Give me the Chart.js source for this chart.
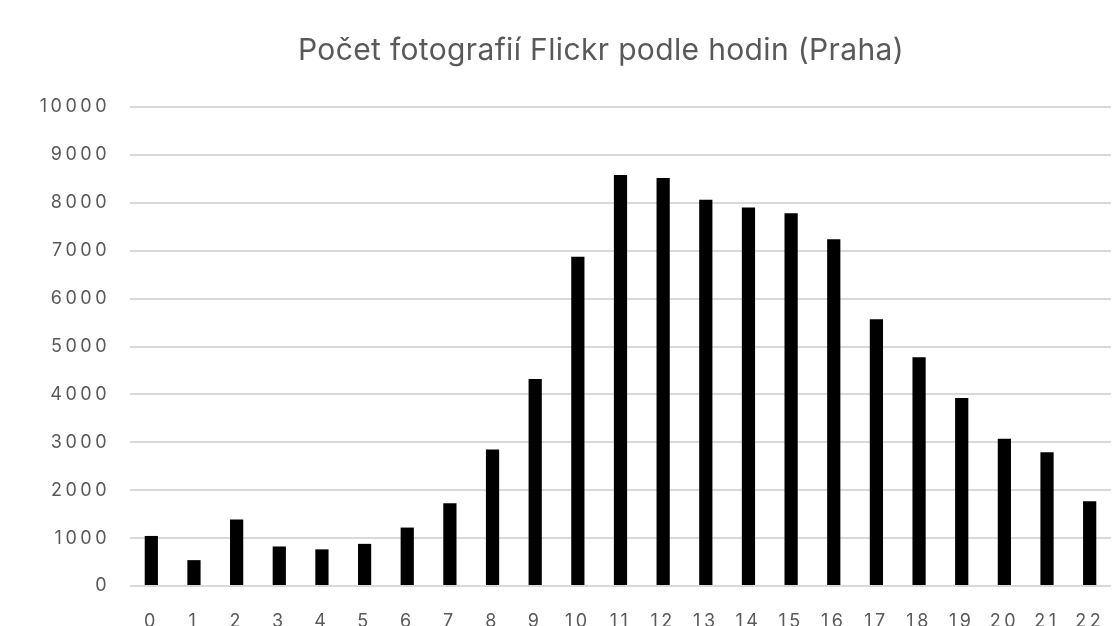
<!DOCTYPE html>
<html>
<head>
<meta charset="utf-8">
<script src="https://cdn.jsdelivr.net/npm/chart.js@4/dist/chart.umd.min.js"></script>
<style>
    html, body { margin: 0; padding: 0; background: #fff; overflow: hidden; }
    #wrap { position: relative; width: 1114px; height: 660px; }
    #title {
        position: absolute; top: 34px; left: 0; width: 1202px;
        text-align: center; font: 30px Inter, sans-serif; line-height: 30px;
        letter-spacing: 0.35px; color: #595959; white-space: nowrap;
    }
</style>
</head>
<body>
<div id="wrap">
    <div id="title">Počet fotografií Flickr podle hodin (Praha)</div>
    <canvas id="hoursChart"></canvas>
</div>
<script>
const hours = ['0', '1', '2', '3', '4', '5', '6', '7', '8', '9', '10', '11',
    '12', '13', '14', '15', '16', '17', '18', '19', '20', '21', '22'];
const photoCounts = [1045, 540, 1390, 825, 765, 880, 1220, 1725, 2850, 4320, 6875, 8580,
    8520, 8065, 7900, 7780, 7240, 5570, 4775, 3925, 3075, 2790, 1770];
const yMin = 0;
const yMax = 10000;
const yStep = 1000;

// wider digit spacing, like the original
const spacing = {
    id: 'spacing',
    beforeUpdate(chart) { chart.ctx.letterSpacing = '3.5px'; },
    beforeRender(chart) { chart.ctx.letterSpacing = '3.5px'; }
};

const ctx = document.getElementById('hoursChart').getContext('2d');
new Chart(ctx, {
    type: 'bar',
    data: {
        labels: hours,
        datasets: [{
            label: 'Počet fotografií',
            data: photoCounts,
            backgroundColor: '#000000',
            borderWidth: 0,
            categoryPercentage: 1,
            barPercentage: 0.31
        }]
    },
    options: {
        responsive: true,
        maintainAspectRatio: false,
        animation: false,
        layout: { padding: { top: 107, right: 3, left: 0, bottom: 0 } },
        plugins: {
            legend: { display: false },
            tooltip: { enabled: false },
            title: { display: false }
        },
        scales: {
            x: {
                grid: { display: false, drawTicks: false },
                border: { display: false },
                ticks: {
                    color: '#595959',
                    font: { family: 'Inter', size: 18 },
                    padding: 25,
                    maxRotation: 0,
                    autoSkip: false
                },
                afterFit(scale) {
                    scale.height = 74;
                    scale.paddingLeft = 0;
                    scale.paddingRight = 0;
                }
            },
            y: {
                min: yMin,
                max: yMax,
                grid: { color: '#d9d9d9', lineWidth: 2, drawTicks: false },
                border: { display: false },
                ticks: {
                    stepSize: yStep,
                    color: '#595959',
                    font: { family: 'Inter', size: 18 },
                    padding: 20,
                    callback: v => String(v)
                },
                afterFit(scale) { scale.width = 130; }
            }
        }
    },
    plugins: [spacing]
});
</script>
</body>
</html>
